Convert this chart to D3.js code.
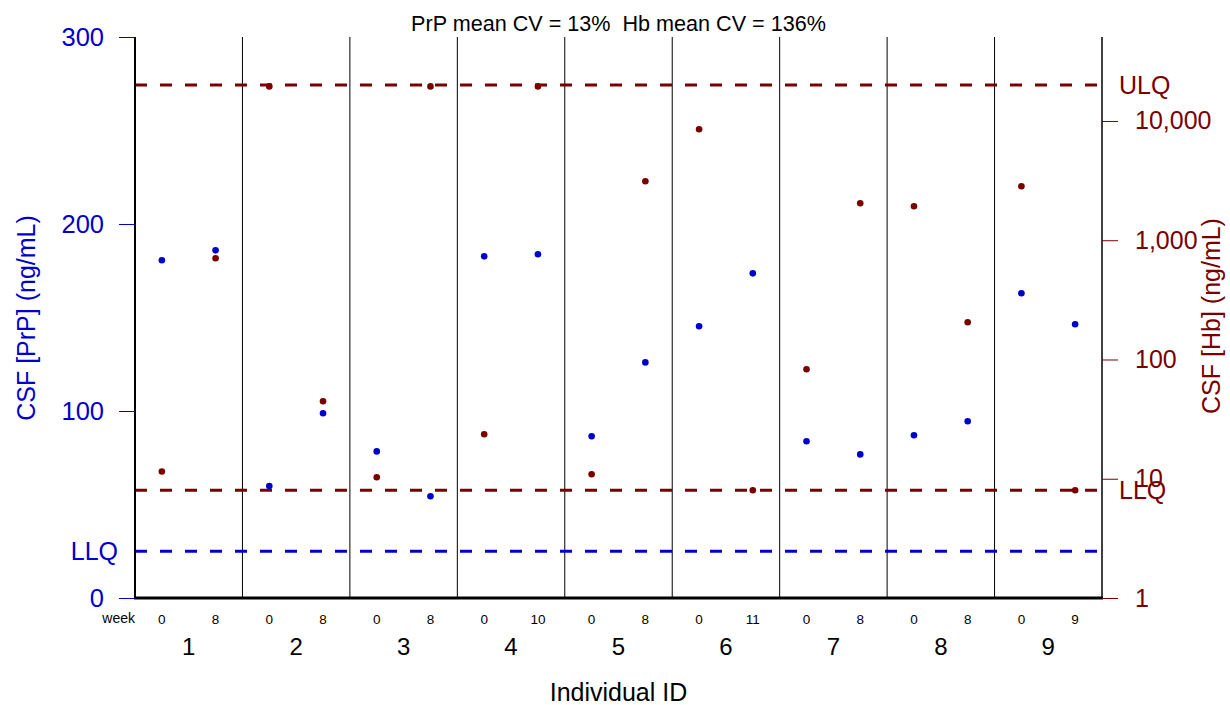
<!DOCTYPE html>
<html>
<head>
<meta charset="utf-8">
<script src="https://cdnjs.cloudflare.com/ajax/libs/d3/7.8.5/d3.min.js"></script>
<style>
	body { margin: 0; background: #fff; }
	svg { display: block; font-family: "Liberation Sans", Arial, sans-serif; }
</style>
</head>
<body>
<svg id="chart"></svg>
<script>
// data
var ids = [1, 2, 3, 4, 5, 6, 7, 8, 9];
var weeks = [[0, 8], [0, 8], [0, 8], [0, 10], [0, 8], [0, 11], [0, 8], [0, 8], [0, 9]];
// CSF PrP, ng/mL (left axis)
var prp = [[180.6, 185.9], [59.9, 98.8], [78.4, 54.4], [182.7, 183.8], [86.5, 126],
	[145.3, 173.6], [83.8, 76.8], [87, 94.5], [163, 146.4]];
// CSF Hb, ng/mL (right axis, log)
var hb = [[11.5, 706], [19500, 44.6], [10.3, 19500], [23.6, 19500], [10.9, 3120],
	[8520, 8], [82.8, 2040], [1926, 205], [2833, 8]];
var prpTicks = [0, 100, 200, 300];
var hbTicks = [1, 10, 100, 1000, 10000];
var prpLLQ = 25;
var hbLLQ = 8;
var hbULQ = 20000;
var title = "PrP mean CV = 13%\u00a0\u00a0Hb mean CV = 136%";

var blue = "#0000cd";
var red = "#7a0000";

var W = 1230, H = 705;
// plot box (note: "top" is taken by window.top, so use other names)
var pLeft = 135, pRight = 1102, pTop = 37, pBottom = 598;

var svg = d3.select('#chart').attr('width', W).attr('height', H);

// x: one band per individual, two timepoints inside
var x = d3.scaleBand().domain(ids).range([pLeft, pRight]).padding(0);
var xi = d3.scalePoint().domain([0, 1]).range([0, x.bandwidth()]).padding(0.5);

var yP = d3.scaleLinear().domain([0, 300]).range([pBottom, pTop]);
var yH = d3.scaleLog().domain([1, 50600]).range([pBottom, pTop]);

// divider lines between individuals
svg.append('g').selectAll('line')
	.data(ids.slice(1))
	.enter().append('line')
	.attr('x1', function(d){return x(d)})
	.attr('x2', function(d){return x(d)})
	.attr('y1', pTop).attr('y2', pBottom)
	.style('stroke', '#000').style('stroke-width', 1);

// limit of quantification lines
function hline(y, col){
	svg.append('line')
		.attr('x1', pLeft).attr('x2', pRight)
		.attr('y1', y).attr('y2', y)
		.style('stroke', col).style('stroke-width', 3)
		.style('stroke-dasharray', '12,13');
}
hline(yP(prpLLQ), blue);
hline(yH(hbLLQ), red);
hline(yH(hbULQ), red);

// frame: left, right, bottom
svg.append('line').attr('x1', pLeft).attr('x2', pLeft).attr('y1', pTop).attr('y2', pBottom + 1)
	.style('stroke', '#000').style('stroke-width', 2);
svg.append('line').attr('x1', pRight).attr('x2', pRight).attr('y1', pTop).attr('y2', pBottom + 1)
	.style('stroke', '#000').style('stroke-width', 1.5);
svg.append('line').attr('x1', pLeft - 1).attr('x2', pRight + 1).attr('y1', pBottom).attr('y2', pBottom)
	.style('stroke', '#000').style('stroke-width', 3);

// left axis (PrP)
var axL = svg.append('g')
	.attr('transform', 'translate(' + pLeft + ',0)')
	.call(d3.axisLeft(yP).tickValues(prpTicks).tickSize(16).tickPadding(15));
axL.select('.domain').remove();
axL.selectAll('line').style('stroke', blue);
axL.selectAll('text').style('fill', blue).style('font-size', '25.5px')
	.style('font-family', '"Liberation Sans", Arial, sans-serif');

svg.append('text')
	.attr('x', 118).attr('y', yP(prpLLQ)).attr('dy', '0.36em')
	.attr('text-anchor', 'end')
	.style('fill', blue).style('font-size', '25px')
	.text('LLQ');

// right axis (Hb)
var axR = svg.append('g')
	.attr('transform', 'translate(' + pRight + ',0)')
	.call(d3.axisRight(yH).tickValues(hbTicks).tickFormat(d3.format(',')).tickSize(16).tickPadding(17));
axR.select('.domain').remove();
axR.selectAll('line').style('stroke', red);
axR.selectAll('text').style('fill', red).style('font-size', '25px')
	.style('font-family', '"Liberation Sans", Arial, sans-serif');

svg.append('text').attr('x', 1119).attr('y', yH(hbULQ)).attr('dy', '0.36em')
	.style('fill', red).style('font-size', '25px').text('ULQ');
svg.append('text').attr('x', 1119).attr('y', yH(hbLLQ)).attr('dy', '0.36em')
	.style('fill', red).style('font-size', '25px').text('LLQ');

// axis titles
svg.append('text')
	.attr('transform', 'translate(35,318) rotate(-90)')
	.attr('text-anchor', 'middle')
	.style('fill', blue).style('font-size', '25px')
	.text('CSF [PrP] (ng/mL)');
svg.append('text')
	.attr('transform', 'translate(1220,316) rotate(-90)')
	.attr('text-anchor', 'middle')
	.style('fill', red).style('font-size', '25px')
	.text('CSF [Hb] (ng/mL)');

svg.append('text')
	.attr('x', (pLeft + pRight) / 2).attr('y', 31)
	.attr('text-anchor', 'middle')
	.style('font-size', '21.6px')
	.text(title);

// week labels and individual ids
svg.append('text').attr('x', 135).attr('y', 623).attr('text-anchor', 'end')
	.style('font-size', '14px').text('week');

var grp = svg.append('g').selectAll('g')
	.data(ids)
	.enter().append('g')
	.attr('transform', function(d){return 'translate(' + x(d) + ',0)'});

grp.selectAll('text.wk')
	.data(function(d, i){return weeks[i]})
	.enter().append('text')
	.attr('class', 'wk')
	.attr('x', function(d, j){return xi(j)})
	.attr('y', 624)
	.attr('text-anchor', 'middle')
	.style('font-size', '13.5px')
	.text(function(d){return d});

grp.append('text')
	.attr('x', x.bandwidth() / 2).attr('y', 655)
	.attr('text-anchor', 'middle')
	.style('font-size', '24px')
	.text(function(d){return d});

svg.append('text')
	.attr('x', (pLeft + pRight) / 2).attr('y', 701)
	.attr('text-anchor', 'middle')
	.style('font-size', '25px')
	.text('Individual ID');

// points: flatten the pairs
function flat(vals){
	var out = [];
	ids.forEach(function(id, i){
		vals[i].forEach(function(v, j){ out.push({id: id, j: j, v: v}) });
	});
	return out;
}

svg.append('g').selectAll('circle')
	.data(flat(hb))
	.enter().append('circle')
	.attr('cx', function(d){return x(d.id) + xi(d.j)})
	.attr('cy', function(d){return yH(d.v)})
	.attr('r', 3.3)
	.style('fill', red);

svg.append('g').selectAll('circle')
	.data(flat(prp))
	.enter().append('circle')
	.attr('cx', function(d){return x(d.id) + xi(d.j)})
	.attr('cy', function(d){return yP(d.v)})
	.attr('r', 3.3)
	.style('fill', blue);
</script>
</body>
</html>
